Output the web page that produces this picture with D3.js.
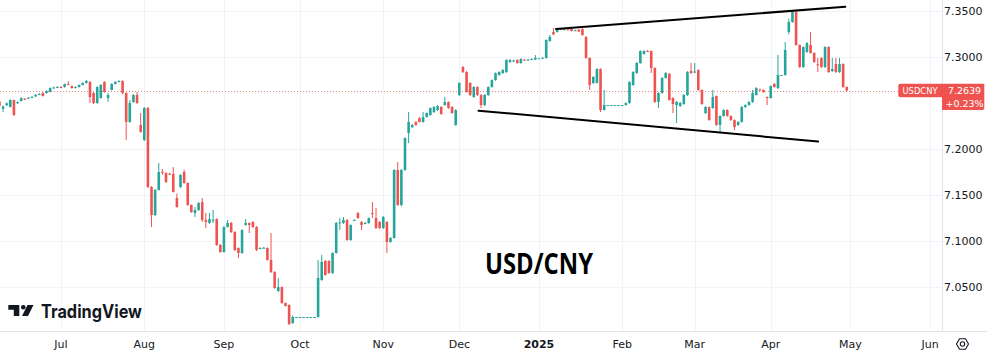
<!DOCTYPE html>
<html><head><meta charset="utf-8">
<script src="https://cdn.jsdelivr.net/npm/d3@7"></script>
<style>html,body{margin:0;padding:0;background:#fff;overflow:hidden}</style>
</head><body><svg id="c" width="987" height="357"></svg>
<script>
// ---- DATA (daily USD/CNY candles, weekdays from 2024-06-06 to 2025-04-30) ----
const startDate = "2024-06-06";
const openP = [
7.2520,7.2440,7.2480,7.2460,7.2536,7.2500,7.2525,7.2550,7.2550,7.2560,
7.2575,7.2595,7.2612,7.2612,7.2623,7.2666,7.2672,7.2677,7.2677,7.2710,
7.2688,7.2670,7.2677,7.2699,7.2721,7.2732,7.2612,7.2503,7.2558,7.2732,
7.2558,7.2645,7.2710,7.2732,7.2743,7.2612,7.2297,7.2514,7.2590,7.2264,
7.2101,7.2449,7.1590,7.1286,7.1558,7.1753,7.1742,7.1735,7.1731,7.1471,
7.1590,7.1753,7.1634,7.1395,7.1308,7.1340,7.1427,7.1232,7.1199,7.1225,
7.1242,7.0960,7.0884,7.1155,7.1199,7.1101,7.0927,7.0873,7.1177,7.1199,
7.1210,7.1155,7.0920,7.0927,7.0927,7.0797,7.0666,7.0460,7.0503,7.0329,
7.0308,7.0112,7.0177,7.0177,7.0177,7.0177,7.0177,7.0177,7.0177,7.0579,
7.0786,7.0786,7.0656,7.0873,7.1199,7.1199,7.1232,7.1014,7.1225,7.1308,
7.1210,7.1195,7.1199,7.1308,7.1253,7.1210,7.1144,7.1210,7.0992,7.1036,
7.1775,7.1395,7.1775,7.2177,7.2242,7.2297,7.2340,7.2297,7.2351,7.2373,
7.2405,7.2427,7.2460,7.2481,7.2514,7.2460,7.2264,7.2590,7.2895,7.2840,
7.2721,7.2568,7.2677,7.2590,7.2481,7.2590,7.2677,7.2753,7.2808,7.2829,
7.2840,7.2949,7.2960,7.2971,7.2938,7.2975,7.2971,7.2975,7.2975,7.2990,
7.2990,7.2993,7.3177,7.3275,7.3275,7.3308,7.3300,7.3305,7.3308,7.3290,
7.3300,7.3308,7.3221,7.2993,7.2721,7.2721,7.2873,7.2427,7.2481,7.2481,
7.2481,7.2481,7.2481,7.2481,7.2503,7.2699,7.2830,7.2938,7.3036,7.3068,
7.3068,7.2884,7.2514,7.2612,7.2775,7.2819,7.2558,7.2481,7.2471,7.2492,
7.2590,7.2851,7.2835,7.2862,7.2645,7.2394,7.2460,7.2449,7.2579,7.2264,
7.2362,7.2427,7.2362,7.2318,7.2264,7.2297,7.2460,7.2481,7.2514,7.2590,
7.2650,7.2645,7.2568,7.2558,7.2710,7.2666,7.2808,7.2808,7.3275,7.3384,
7.3492,7.3134,7.2895,7.3057,7.3134,7.3047,7.2925,7.2993,7.2895,7.3112,
7.2851,7.2927,7.2840,7.2927,7.2677];
const highP = [
7.2530,7.2475,7.2510,7.2545,7.2540,7.2520,7.2565,7.2556,7.2566,7.2578,
7.2600,7.2610,7.2620,7.2640,7.2672,7.2680,7.2685,7.2688,7.2715,7.2740,
7.2695,7.2685,7.2705,7.2728,7.2755,7.2740,7.2620,7.2685,7.2710,7.2740,
7.2612,7.2718,7.2740,7.2750,7.2750,7.2620,7.2536,7.2600,7.2623,7.2394,
7.2460,7.2460,7.1600,7.1570,7.1851,7.1785,7.1750,7.1745,7.1807,7.1520,
7.1730,7.1780,7.1640,7.1400,7.1373,7.1425,7.1471,7.1308,7.1308,7.1340,
7.1250,7.0970,7.1165,7.1232,7.1210,7.1110,7.0935,7.1130,7.1242,7.1205,
7.1220,7.1165,7.0935,7.0938,7.0935,7.1090,7.0675,7.0601,7.0510,7.0335,
7.0315,7.0195,7.0177,7.0177,7.0177,7.0177,7.0177,7.0177,7.0797,7.0851,
7.0795,7.0795,7.0880,7.1210,7.1253,7.1264,7.1240,7.1185,7.1240,7.1315,
7.1220,7.1210,7.1260,7.1427,7.1362,7.1220,7.1275,7.1220,7.1045,7.1785,
7.1862,7.1785,7.2130,7.2405,7.2275,7.2305,7.2350,7.2405,7.2400,7.2455,
7.2470,7.2480,7.2470,7.2568,7.2520,7.2470,7.2435,7.2730,7.2905,7.2850,
7.2730,7.2685,7.2685,7.2600,7.2600,7.2685,7.2760,7.2835,7.2848,7.2870,
7.2980,7.2980,7.2975,7.2980,7.2990,7.2980,7.2980,7.2990,7.3025,7.2990,
7.3000,7.3195,7.3242,7.3318,7.3315,7.3315,7.3312,7.3310,7.3312,7.3300,
7.3305,7.3315,7.3230,7.3000,7.2795,7.2880,7.2880,7.2645,7.2481,7.2481,
7.2481,7.2481,7.2481,7.2510,7.2740,7.2850,7.2950,7.3075,7.3079,7.3079,
7.3075,7.2890,7.2620,7.2785,7.2840,7.2830,7.2565,7.2525,7.2515,7.2600,
7.2850,7.2938,7.2938,7.2870,7.2650,7.2470,7.2465,7.2645,7.2585,7.2370,
7.2435,7.2435,7.2370,7.2325,7.2305,7.2470,7.2490,7.2525,7.2645,7.2675,
7.2660,7.2650,7.2575,7.2695,7.2720,7.3025,7.2808,7.3166,7.3420,7.3500,
7.3500,7.3140,7.3120,7.3165,7.3275,7.3055,7.2993,7.3000,7.3120,7.3120,
7.2993,7.2993,7.2993,7.2935,7.2685];
const lowP = [
7.2465,7.2405,7.2470,7.2455,7.2360,7.2495,7.2520,7.2540,7.2545,7.2555,
7.2570,7.2590,7.2575,7.2605,7.2618,7.2660,7.2665,7.2665,7.2670,7.2695,
7.2660,7.2662,7.2672,7.2695,7.2715,7.2503,7.2490,7.2495,7.2550,7.2615,
7.2514,7.2640,7.2705,7.2725,7.2600,7.2101,7.2290,7.2505,7.2495,7.2180,
7.2090,7.1580,7.1155,7.1275,7.1550,7.1725,7.1635,7.1720,7.1530,7.1365,
7.1580,7.1625,7.1385,7.1310,7.1264,7.1330,7.1210,7.1144,7.1190,7.1199,
7.0950,7.0875,7.0875,7.1150,7.1090,7.0895,7.0818,7.0865,7.1170,7.1090,
7.1145,7.0895,7.0915,7.0920,7.0790,7.0656,7.0485,7.0449,7.0320,7.0290,
7.0090,7.0101,7.0177,7.0177,7.0177,7.0177,7.0177,7.0177,7.0170,7.0570,
7.0625,7.0645,7.0645,7.0865,7.1123,7.1190,7.1005,7.1005,7.1220,7.1245,
7.1123,7.1185,7.1190,7.1253,7.1135,7.1135,7.1135,7.0873,7.0985,7.1030,
7.1385,7.1380,7.1765,7.2068,7.2230,7.2255,7.2290,7.2290,7.2345,7.2365,
7.2395,7.2415,7.2375,7.2475,7.2440,7.2385,7.2255,7.2580,7.2830,7.2615,
7.2580,7.2560,7.2580,7.2449,7.2470,7.2580,7.2670,7.2745,7.2800,7.2820,
7.2830,7.2940,7.2950,7.2930,7.2930,7.2965,7.2965,7.2970,7.2970,7.2990,
7.2985,7.2985,7.3170,7.3240,7.3270,7.3295,7.3295,7.3295,7.3280,7.3285,
7.3275,7.3235,7.2985,7.2645,7.2710,7.2715,7.2405,7.2420,7.2481,7.2481,
7.2481,7.2481,7.2481,7.2475,7.2495,7.2690,7.2820,7.2930,7.3030,7.3057,
7.2829,7.2505,7.2449,7.2605,7.2770,7.2530,7.2394,7.2286,7.2460,7.2485,
7.2580,7.2820,7.2828,7.2635,7.2485,7.2385,7.2310,7.2440,7.2255,7.2177,
7.2355,7.2355,7.2310,7.2210,7.2255,7.2290,7.2450,7.2475,7.2505,7.2585,
7.2635,7.2615,7.2481,7.2550,7.2670,7.2655,7.2808,7.2800,7.3250,7.3375,
7.3125,7.2885,7.2885,7.3050,7.3040,7.2940,7.2840,7.2885,7.2885,7.2830,
7.2840,7.2830,7.2830,7.2670,7.2630];
const closeP = [
7.2470,7.2465,7.2500,7.2536,7.2373,7.2514,7.2558,7.2547,7.2560,7.2570,
7.2592,7.2601,7.2579,7.2634,7.2666,7.2672,7.2677,7.2672,7.2710,7.2699,
7.2666,7.2677,7.2699,7.2721,7.2743,7.2568,7.2503,7.2677,7.2700,7.2623,
7.2590,7.2710,7.2732,7.2743,7.2612,7.2297,7.2503,7.2590,7.2503,7.2188,
7.2449,7.1590,7.1286,7.1558,7.1753,7.1745,7.1644,7.1731,7.1536,7.1373,
7.1721,7.1634,7.1395,7.1318,7.1340,7.1416,7.1232,7.1210,7.1242,7.1235,
7.0960,7.0884,7.1155,7.1199,7.1101,7.0905,7.0873,7.1123,7.1199,7.1177,
7.1155,7.0905,7.0927,7.0930,7.0797,7.0666,7.0492,7.0503,7.0329,7.0297,
7.0101,7.0177,7.0177,7.0177,7.0177,7.0177,7.0177,7.0177,7.0601,7.0775,
7.0634,7.0656,7.0873,7.1199,7.1205,7.1232,7.1014,7.1177,7.1232,7.1253,
7.1177,7.1199,7.1253,7.1300,7.1144,7.1144,7.1264,7.0992,7.1036,7.1775,
7.1395,7.1775,7.2123,7.2297,7.2264,7.2264,7.2297,7.2351,7.2394,7.2449,
7.2460,7.2471,7.2384,7.2514,7.2449,7.2394,7.2427,7.2721,7.2840,7.2623,
7.2590,7.2677,7.2590,7.2481,7.2590,7.2677,7.2753,7.2829,7.2840,7.2862,
7.2971,7.2971,7.2965,7.2938,7.2982,7.2971,7.2975,7.2982,7.2993,7.2990,
7.2995,7.3188,7.3221,7.3250,7.3308,7.3300,7.3305,7.3300,7.3286,7.3295,
7.3280,7.3242,7.2993,7.2699,7.2786,7.2873,7.2427,7.2481,7.2481,7.2481,
7.2481,7.2481,7.2481,7.2503,7.2732,7.2840,7.2938,7.3068,7.3068,7.3065,
7.2884,7.2514,7.2612,7.2775,7.2829,7.2536,7.2492,7.2514,7.2503,7.2590,
7.2840,7.2829,7.2845,7.2645,7.2492,7.2460,7.2318,7.2568,7.2264,7.2362,
7.2427,7.2362,7.2318,7.2242,7.2297,7.2460,7.2481,7.2514,7.2612,7.2666,
7.2645,7.2623,7.2558,7.2688,7.2677,7.2808,7.2808,7.3079,7.3384,7.3492,
7.3134,7.2895,7.3112,7.3155,7.3047,7.2949,7.2916,7.2895,7.3112,7.2840,
7.2873,7.2840,7.2927,7.2677,7.2639];
const monthLabels = ["Jul","Aug","Sep","Oct","Nov","Dec","2025","Feb","Mar","Apr","May","Jun"];
const priceTicks = [7.05, 7.10, 7.15, 7.20, 7.30, 7.35];
const symbolName = "USDCNY", lastPriceText = "7.2639", changeText = "+0.23%";
const titleText = "USD/CNY", brandText = "TradingView";
// trend lines drawn on the chart (bar index, price)
const upperTrend = [{i:153.7, v:7.3308}, {i:233.6, v:7.3550}];
const lowerTrend = [{i:132.3, v:7.2420}, {i:226.1, v:7.2085}];
const lastPrice = closeP[closeP.length - 1];

// ---- LAYOUT ----
const W = 987, H = 357, plotR = 942, plotB = 331;
const upC = "#26a69a", dnC = "#ef5350", gridC = "#f0f3fa", txtC = "#131722";
const svg = d3.select("#c");

// weekday calendar
const parse = d3.utcParse("%Y-%m-%d");
const days = d3.utcDay.range(parse(startDate), parse("2025-07-01")).filter(d => d.getUTCDay() % 6 !== 0);
const months = d3.utcMonth.range(parse("2024-07-01"), parse("2025-07-01"));
const monthIdx = months.map(m => days.findIndex(d => d >= m));

const x = d3.scaleLinear().domain([0.154, 260.3]).range([0, plotR]);
const y = d3.scaleLinear().domain([7.0025, 7.3623]).range([plotB, 0]);

svg.append("rect").attr("width", W).attr("height", H).attr("fill", "#fff");
svg.append("defs").append("clipPath").attr("id", "pc")
  .append("rect").attr("x", 0).attr("y", 0).attr("width", plotR).attr("height", plotB);

// grid
const grid = svg.append("g");
grid.selectAll(".hg").data(priceTicks).join("line")
  .attr("x1", 0).attr("x2", plotR)
  .attr("y1", d => Math.round(y(d)) + 0.5).attr("y2", d => Math.round(y(d)) + 0.5)
  .attr("stroke", gridC).attr("stroke-width", 1);
grid.selectAll(".vg").data(monthIdx).join("line")
  .attr("x1", d => Math.round(x(d)) + 0.5).attr("x2", d => Math.round(x(d)) + 0.5)
  .attr("y1", 0).attr("y2", plotB)
  .attr("stroke", gridC).attr("stroke-width", 1);

// borders
svg.append("line").attr("x1", plotR + 0.5).attr("x2", plotR + 0.5).attr("y1", 0).attr("y2", plotB)
  .attr("stroke", "#e0e3eb");
svg.append("line").attr("x1", 0).attr("x2", W).attr("y1", plotB + 0.5).attr("y2", plotB + 0.5)
  .attr("stroke", "#e0e3eb");

const plot = svg.append("g").attr("clip-path", "url(#pc)");

// last price dotted line
plot.append("line").attr("x1", 0).attr("x2", plotR)
  .attr("y1", Math.round(y(lastPrice)) + 0.5).attr("y2", Math.round(y(lastPrice)) + 0.5)
  .attr("stroke", dnC).attr("stroke-width", 1).attr("stroke-dasharray", "1,2").attr("opacity", 0.7);

// candles
const idx = d3.range(openP.length);
const col = i => closeP[i] >= openP[i] ? upC : dnC;
plot.selectAll(".wk").data(idx).join("line")
  .attr("x1", i => x(i)).attr("x2", i => x(i))
  .attr("y1", i => y(highP[i])).attr("y2", i => y(lowP[i]))
  .attr("stroke", col).attr("stroke-width", 1);
plot.selectAll(".bd").data(idx).join("rect")
  .attr("x", i => x(i) - 1.3).attr("width", 2.6)
  .attr("y", i => y(Math.max(openP[i], closeP[i])))
  .attr("height", i => Math.max(1, Math.abs(y(openP[i]) - y(closeP[i]))))
  .attr("fill", col);

// trend lines
const tl = d3.line().x(d => x(d.i)).y(d => y(d.v));
[upperTrend, lowerTrend].forEach(t => {
  plot.append("path").attr("d", tl(t)).attr("fill", "none")
    .attr("stroke", "#000").attr("stroke-width", 2).attr("stroke-linecap", "round");
});

// title
svg.append("text").attr("x", 485).attr("y", 273.5).text(titleText)
  .attr("font-family", "'Open Sans', sans-serif").attr("font-weight", 700)
  .attr("font-size", 28).attr("fill", "#000")
  .attr("textLength", 108).attr("lengthAdjust", "spacingAndGlyphs");

// price axis labels
svg.selectAll(".pl").data(priceTicks).join("text")
  .attr("x", 944).attr("y", d => y(d)).attr("dy", "0.35em")
  .text(d => d3.format(".4f")(d))
  .attr("font-family", "'DejaVu Sans', sans-serif").attr("font-size", 11).attr("fill", txtC);

// time axis labels
svg.selectAll(".tl").data(monthIdx).join("text")
  .attr("x", d => x(d)).attr("y", 348).attr("text-anchor", "middle")
  .text((d, k) => monthLabels[k])
  .attr("font-family", "'DejaVu Sans', sans-serif").attr("font-size", 11)
  .attr("font-weight", (d, k) => monthLabels[k] === "2025" ? 700 : 400)
  .attr("fill", txtC);

// price labels
const ly = y(lastPrice);
svg.append("path")
  .attr("d", `M${900.3},${ly - 6.7} H942 V${ly + 6.7} H900.3 a2,2 0 0 1 -2,-2 V${ly - 4.7} a2,2 0 0 1 2,-2 Z`)
  .attr("fill", dnC);
svg.append("path")
  .attr("d", `M942,${ly - 6.7} H984.3 V${ly + 17.5} a2,2 0 0 1 -2,2 H942 Z`)
  .attr("fill", dnC);
svg.append("text").attr("x", 920).attr("y", ly).attr("dy", "0.35em").attr("text-anchor", "middle")
  .text(symbolName).attr("font-family", "'DejaVu Sans', sans-serif").attr("font-size", 9)
  .attr("fill", "#fff").attr("textLength", 35).attr("lengthAdjust", "spacingAndGlyphs");
svg.append("text").attr("x", 964.5).attr("y", ly).attr("dy", "0.35em").attr("text-anchor", "middle")
  .text(lastPriceText).attr("font-family", "'DejaVu Sans', sans-serif").attr("font-size", 9.5)
  .attr("fill", "#fff");
svg.append("text").attr("x", 964.5).attr("y", ly + 12.8).attr("dy", "0.35em").attr("text-anchor", "middle")
  .text(changeText).attr("font-family", "'DejaVu Sans', sans-serif").attr("font-size", 9.5)
  .attr("fill", "#fff");

// TradingView brand
const logo = svg.append("g").attr("fill", txtC);
logo.append("path").attr("d", "M8.3,305 H19.3 V316 H13.8 V309.8 H8.3 Z");
logo.append("circle").attr("cx", 23.3).attr("cy", 307.3).attr("r", 2.3);
logo.append("path").attr("d", "M27.5,305 H33.5 L28,316 H22 Z");
svg.append("text").attr("x", 41).attr("y", 317.5).text(brandText)
  .attr("font-family", "Inter, 'Open Sans', sans-serif").attr("font-weight", 700)
  .attr("font-size", 18.5).attr("fill", txtC)
  .attr("textLength", 101).attr("lengthAdjust", "spacingAndGlyphs");

// settings gear icon
const gx = 962.5, gy = 344;
const hex = d3.range(6).map(k => [gx + 6 * Math.cos(Math.PI / 3 * k), gy + 6 * Math.sin(Math.PI / 3 * k)]);
svg.append("path").attr("d", "M" + hex.join("L") + "Z").attr("fill", "none")
  .attr("stroke", txtC).attr("stroke-width", 1.1);
svg.append("circle").attr("cx", gx).attr("cy", gy).attr("r", 2.2).attr("fill", "none")
  .attr("stroke", txtC).attr("stroke-width", 1.1);
</script></body></html>
